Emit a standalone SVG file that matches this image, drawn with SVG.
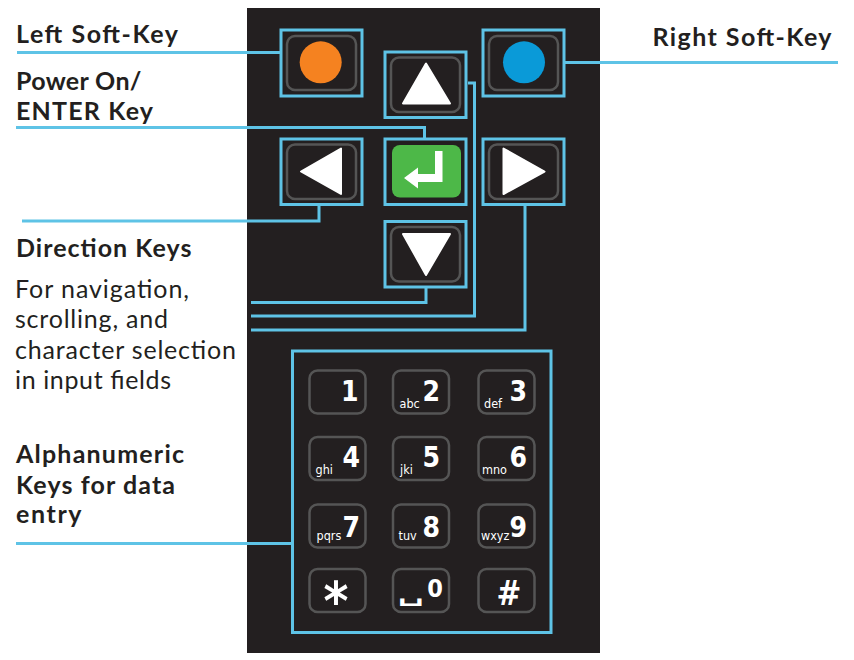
<svg xmlns="http://www.w3.org/2000/svg" width="854" height="660" viewBox="0 0 854 660">
<style>
.lbl{font-family:Lato,"Liberation Sans",sans-serif;font-weight:bold;font-size:25px;fill:#231f20}
.txt{font-family:Lato,"Liberation Sans",sans-serif;font-size:25px;fill:#231f20}
.frame{fill:none;stroke:#5ec3e6;stroke-width:3}
.conn{fill:none;stroke:#5ec3e6;stroke-width:3}
.key{fill:#231f20;stroke:#555;stroke-width:2.5}
.tri{fill:#fff;stroke:#fff;stroke-width:2;stroke-linejoin:round}
.dig{font-family:"DejaVu Sans Condensed","DejaVu Sans",sans-serif;font-stretch:condensed;font-weight:bold;font-size:28px;fill:#fff;text-anchor:end}
.sm{font-family:"DejaVu Sans Condensed","DejaVu Sans",sans-serif;font-stretch:condensed;font-size:12.5px;fill:#fff}
.sp{font-family:"DejaVu Sans",sans-serif;font-weight:bold;font-size:26px;fill:#fff;text-anchor:middle}
</style>
<rect x="0" y="0" width="854" height="660" fill="#fff"/>
<rect id="panel" x="247" y="8" width="353" height="645" fill="#231f20"/>

<g id="connectors">
<path class="conn" d="M280,52.5 H17"/>
<path class="conn" d="M565,62.5 H838"/>
<path class="conn" d="M424.5,139 V127.5 H16"/>
<path class="conn" d="M319,206 V221 H22"/>
<path class="conn" d="M426,288 V302.5 H251"/>
<path class="conn" d="M468,83 H474.5 V316 H251"/>
<path class="conn" d="M525,206 V330 H251"/>
<path class="conn" d="M291,543.5 H16"/>
</g>

<g id="left-soft-key">
<rect class="frame" x="281" y="30" width="81" height="66"/>
<rect class="key" x="287" y="36" width="69" height="54" rx="8"/>
<circle cx="320.7" cy="62.3" r="21" fill="#f58220"/>
</g>
<g id="right-soft-key">
<rect class="frame" x="483" y="30" width="81" height="66"/>
<rect class="key" x="489" y="36" width="69" height="54" rx="8"/>
<circle cx="524" cy="62.3" r="21" fill="#0a9ad8"/>
</g>
<g id="up-key">
<rect class="frame" x="385" y="52" width="81" height="65.5"/>
<rect class="key" x="391" y="57.5" width="69" height="54.5" rx="8"/>
<polygon class="tri" points="426,63.5 403,103.5 450,103.5"/>
</g>
<g id="left-key">
<rect class="frame" x="281" y="139" width="81" height="65.5"/>
<rect class="key" x="287" y="144.5" width="69" height="54.5" rx="8"/>
<polygon class="tri" points="301,171.5 341,148.5 341,194"/>
</g>
<g id="enter-key">
<rect class="frame" x="385" y="139" width="81" height="65.5"/>
<rect x="392" y="145" width="69" height="52.5" rx="8" fill="#4db848"/>
<path d="M435,151 H442.5 V182 H418 V188.5 L404,178 L418,167.5 V174 H435 Z" fill="#fff"/>
</g>
<g id="right-key">
<rect class="frame" x="483" y="139" width="81" height="65.5"/>
<rect class="key" x="489" y="144.5" width="69" height="54.5" rx="8"/>
<polygon class="tri" points="544.5,171.5 503.5,148.5 503.5,194"/>
</g>
<g id="down-key">
<rect class="frame" x="385" y="221.5" width="81" height="65.5"/>
<rect class="key" x="391" y="227" width="69" height="54.5" rx="8"/>
<polygon class="tri" points="403,234 450,234 426,275"/>
</g>

<g id="keypad">
<rect class="frame" x="292.5" y="351" width="258.5" height="281.5"/>
<rect class="key" x="309.5" y="370.5" width="56" height="43" rx="8"/>
<rect class="key" x="393" y="370.5" width="56" height="43" rx="8"/>
<rect class="key" x="478.5" y="370.5" width="56" height="43" rx="8"/>
<rect class="key" x="309.5" y="437" width="56" height="43" rx="8"/>
<rect class="key" x="393" y="437" width="56" height="43" rx="8"/>
<rect class="key" x="478.5" y="437" width="56" height="43" rx="8"/>
<rect class="key" x="309.5" y="504.5" width="56" height="43" rx="8"/>
<rect class="key" x="393" y="504.5" width="56" height="43" rx="8"/>
<rect class="key" x="478.5" y="504.5" width="56" height="43" rx="8"/>
<rect class="key" x="309.5" y="569" width="56" height="43" rx="8"/>
<rect class="key" x="393" y="569" width="56" height="43" rx="8"/>
<rect class="key" x="478.5" y="569" width="56" height="43" rx="8"/>
<text class="dig" x="358.5" y="401">1</text>
<text class="dig" x="440" y="401">2</text>
<text class="dig" x="527" y="401">3</text>
<text class="dig" x="360" y="467">4</text>
<text class="dig" x="440" y="467">5</text>
<text class="dig" x="527" y="467">6</text>
<text class="dig" x="360" y="537">7</text>
<text class="dig" x="440" y="537">8</text>
<text class="dig" x="527" y="537">9</text>
<text class="sm" x="399.5" y="407.5">abc</text>
<text class="sm" x="484" y="407.5">def</text>
<text class="sm" x="315.5" y="474">ghi</text>
<text class="sm" x="400" y="474">jki</text>
<text class="sm" x="482" y="474">mno</text>
<text class="sm" x="316.5" y="540">pqrs</text>
<text class="sm" x="398.5" y="540">tuv</text>
<text class="sm" x="481" y="540">wxyz</text>
<text class="dig" x="336" y="620" style="font-size:53px;text-anchor:middle">*</text>
<text class="dig" x="509" y="605" style="font-size:33px;text-anchor:middle">#</text>
<text class="dig" x="443" y="597" style="font-size:25px">0</text>
<text class="sp" transform="translate(411,601) scale(1.4,0.9)">␣</text>
</g>

<g id="labels">
<text class="lbl" x="16" y="42.5" textLength="162" lengthAdjust="spacing">Left Soft-Key</text>
<text class="lbl" x="16" y="89.5" textLength="125.5" lengthAdjust="spacing">Power On/</text>
<text class="lbl" x="16" y="120" textLength="137" lengthAdjust="spacing">ENTER Key</text>
<text class="lbl" x="16" y="256.5" textLength="175.5" lengthAdjust="spacing">Direction Keys</text>
<text class="txt" x="15" y="297.5" textLength="174" lengthAdjust="spacing">For navigation,</text>
<text class="txt" x="15" y="328" textLength="153" lengthAdjust="spacing">scrolling, and</text>
<text class="txt" x="15" y="358.5" textLength="221" lengthAdjust="spacing">character selection</text>
<text class="txt" x="15" y="389" textLength="156" lengthAdjust="spacing">in input fields</text>
<text class="lbl" x="16" y="463" textLength="168" lengthAdjust="spacing">Alphanumeric</text>
<text class="lbl" x="16" y="493.5" textLength="159" lengthAdjust="spacing">Keys for data</text>
<text class="lbl" x="16" y="523" textLength="65.5" lengthAdjust="spacing">entry</text>
<text class="lbl" x="652.5" y="45.5" textLength="179" lengthAdjust="spacing">Right Soft-Key</text>
</g>
</svg>
